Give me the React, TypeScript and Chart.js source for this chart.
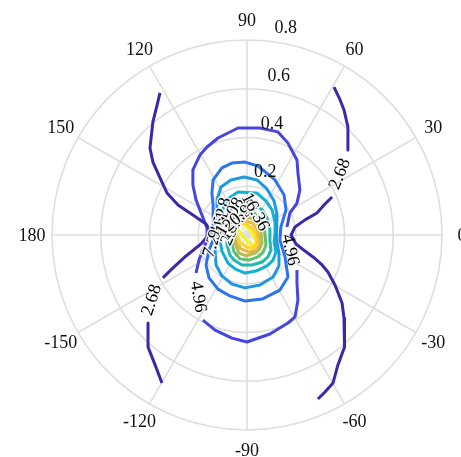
import { useEffect, useRef } from 'react';
import { Chart, registerables } from 'chart.js';

Chart.register(...registerables);

// Polar axis settings
const R_MAX = 0.8;
const radialTicks = [0.2, 0.4, 0.6, 0.8];
const angleTicks = [0, 30, 60, 90, 120, 150, 180, -150, -120, -90, -60, -30];

type P = [number, number];

// Contour polylines in Cartesian data units (x = r cos t, y = r sin t)
const c268LeftUpper: P[] = [
  [-0.357, 0.583], [-0.369, 0.533], [-0.386, 0.464], [-0.398, 0.357], [-0.386, 0.299],
  [-0.353, 0.226], [-0.328, 0.172], [-0.283, 0.123], [-0.222, 0.082], [-0.168, 0.045],
  [-0.148, 0.012], [-0.185, -0.033], [-0.25, -0.086], [-0.308, -0.139], [-0.345, -0.176],
];
const c268LeftLower: P[] = [
  [-0.406, -0.361], [-0.406, -0.46], [-0.377, -0.533], [-0.349, -0.607],
];
const c268RightUpper: P[] = [
  [0.357, 0.607], [0.382, 0.554], [0.398, 0.513], [0.414, 0.443], [0.414, 0.349],
];
const c268RightLower: P[] = [
  [0.349, 0.156], [0.32, 0.127], [0.287, 0.09], [0.238, 0.062], [0.197, 0.033],
  [0.181, 0.0], [0.201, -0.037], [0.238, -0.066], [0.271, -0.09], [0.308, -0.123],
  [0.332, -0.152], [0.361, -0.205], [0.39, -0.279], [0.398, -0.341], [0.402, -0.39],
  [0.398, -0.46], [0.373, -0.533], [0.353, -0.607], [0.32, -0.644], [0.291, -0.673],
];

const c496Upper: P[] = [
  [0.164, 0.033], [0.176, 0.09], [0.205, 0.131], [0.217, 0.185], [0.209, 0.254],
  [0.205, 0.308], [0.168, 0.377], [0.127, 0.423], [0.053, 0.439], [-0.037, 0.439],
  [-0.119, 0.398], [-0.164, 0.361], [-0.193, 0.328], [-0.222, 0.267], [-0.222, 0.205],
  [-0.209, 0.144], [-0.185, 0.082], [-0.164, 0.029], [-0.164, -0.021], [-0.181, -0.062],
  [-0.197, -0.103], [-0.209, -0.156],
];
const c496Lower: P[] = [
  [-0.181, -0.349], [-0.131, -0.39], [-0.062, -0.423], [0.0, -0.439], [0.094, -0.406],
  [0.168, -0.361], [0.197, -0.336], [0.209, -0.267], [0.205, -0.197], [0.205, -0.144],
];

const c724: P[] = [
  [-0.135, -0.012], [-0.139, 0.053], [-0.139, 0.123], [-0.144, 0.172], [-0.139, 0.226],
  [-0.103, 0.275], [-0.062, 0.295], [-0.008, 0.299], [0.045, 0.283], [0.115, 0.226],
  [0.152, 0.164], [0.16, 0.103], [0.139, 0.033], [0.135, -0.021], [0.156, -0.09],
  [0.168, -0.172], [0.135, -0.226], [0.062, -0.263], [-0.008, -0.271], [-0.07, -0.25],
  [-0.119, -0.222], [-0.156, -0.176], [-0.168, -0.123], [-0.156, -0.062], [-0.135, -0.012],
];
const c952: P[] = [
  [-0.119, -0.012], [-0.123, 0.082], [-0.123, 0.144], [-0.107, 0.197], [-0.066, 0.226],
  [-0.012, 0.238], [0.041, 0.226], [0.082, 0.189], [0.111, 0.139], [0.123, 0.086],
  [0.123, 0.029], [0.119, -0.021], [0.131, -0.074], [0.131, -0.127], [0.107, -0.172],
  [0.053, -0.205], [-0.008, -0.217], [-0.062, -0.201], [-0.103, -0.168], [-0.127, -0.123],
  [-0.131, -0.066], [-0.119, -0.012],
];
const c1180: P[] = [
  [-0.111, 0.008], [-0.107, 0.082], [-0.086, 0.144], [-0.037, 0.176], [0.041, 0.172],
  [0.078, 0.139], [0.103, 0.103], [0.115, 0.053], [0.115, 0.008], [0.111, -0.029],
  [0.119, -0.07], [0.107, -0.103], [0.082, -0.127], [0.037, -0.148], [-0.008, -0.156],
  [-0.049, -0.139], [-0.078, -0.115], [-0.103, -0.066], [-0.111, -0.021], [-0.111, 0.008],
];
const c1408: P[] = [
  [-0.082, -0.012], [-0.082, 0.053], [-0.066, 0.111], [-0.029, 0.144], [0.025, 0.131],
  [0.062, 0.103], [0.082, 0.07], [0.094, 0.021], [0.094, -0.021], [0.098, -0.062],
  [0.086, -0.09], [0.062, -0.111], [0.021, -0.123], [-0.021, -0.123], [-0.053, -0.103],
  [-0.07, -0.082], [-0.082, -0.041], [-0.082, -0.012],
];
const c1636: P[] = [
  [-0.062, 0.012], [-0.053, 0.062], [-0.021, 0.103], [0.025, 0.094], [0.053, 0.074],
  [0.07, 0.041], [0.074, -0.004], [0.078, -0.041], [0.066, -0.07], [0.045, -0.09],
  [0.008, -0.103], [-0.029, -0.098], [-0.053, -0.07], [-0.062, -0.033], [-0.062, 0.012],
];
const c1864: P[] = [
  [-0.049, 0.037], [-0.021, 0.074], [0.016, 0.07], [0.045, 0.045], [0.057, 0.012],
  [0.062, -0.029], [0.053, -0.057], [0.033, -0.074], [-0.004, -0.086], [-0.033, -0.074],
  [-0.049, -0.033], [-0.049, 0.037],
];
const c2092: P[] = [
  [-0.049, 0.053], [-0.016, 0.062], [0.021, 0.049], [0.041, 0.025], [0.049, -0.012],
  [0.053, -0.041], [0.037, -0.062], [0.008, -0.07], [-0.025, -0.057], [-0.049, -0.021],
  [-0.057, 0.012], [-0.049, 0.053],
];
const c2320: P[] = [
  [-0.041, 0.053], [-0.004, 0.045], [0.025, 0.025], [0.041, -0.004], [0.041, -0.037],
  [0.025, -0.053], [-0.004, -0.049], [-0.029, -0.029], [-0.045, 0.008], [-0.041, 0.053],
];
const c2548: P[] = [
  [-0.049, 0.066], [-0.012, 0.045], [0.016, 0.016], [0.037, -0.021], [0.033, -0.045],
  [0.008, -0.033], [-0.021, 0.0], [-0.045, 0.037], [-0.049, 0.066],
];

// Contour levels, their colours and the polylines that belong to them
const levels = [2.68, 4.96, 7.24, 9.52, 11.8, 14.08, 16.36, 18.64, 20.92, 23.2, 25.48];
const levelColors = [
  '#3c28a8', '#4545e0', '#2d72ee', '#1e98e2', '#12b0d4', '#22b8b0',
  '#62bf72', '#b1bd52', '#f2b73e', '#f9d22e', '#f4f41a',
];
const levelLines: P[][][] = [
  [c268LeftUpper, c268LeftLower, c268RightUpper, c268RightLower],
  [c496Upper, c496Lower],
  [c724],
  [c952],
  [c1180],
  [c1408],
  [c1636],
  [c1864],
  [c2092],
  [c2320],
  [c2548],
];

// Inline contour labels: text, x, y (data units), rotation in degrees
const contourLabels: [string, number, number, number][] = [
  ['2.68', -0.39, -0.267, -72],
  ['2.68', 0.382, 0.25, -68],
  ['4.96', -0.201, -0.254, 81],
  ['4.96', 0.176, -0.062, 77],
];
const clusterLabels: [string, number, number, number][] = [
  ['7.24', -0.139, -0.029, -72],
  ['23.2', -0.06, 0.02, -65],
  ['9.52', -0.115, 0.045, -70],
  ['18.64', -0.045, 0.05, -50],
  ['11.8', -0.098, 0.09, -78],
  ['14.08', -0.07, 0.075, -60],
  ['20.92', -0.025, 0.08, -40],
  ['16.36', 0.033, 0.094, 62],
];

const FONT = '18px "Liberation Serif", "Times New Roman", serif';

const polarFrame = {
  id: 'polarFrame',
  beforeDatasetsDraw(chart: any) {
    const { ctx, scales } = chart;
    const xs = scales.x;
    const ys = scales.y;
    const cx = xs.getPixelForValue(0);
    const cy = ys.getPixelForValue(0);
    const R = xs.getPixelForValue(R_MAX) - cx;
    ctx.save();
    ctx.strokeStyle = '#dedede';
    ctx.lineWidth = 1.6;
    for (const r of radialTicks) {
      const rp = xs.getPixelForValue(r) - cx;
      ctx.beginPath();
      ctx.arc(cx, cy, rp, 0, Math.PI * 2);
      ctx.stroke();
    }
    for (const a of angleTicks) {
      const t = (a * Math.PI) / 180;
      ctx.beginPath();
      ctx.moveTo(cx, cy);
      ctx.lineTo(cx + R * Math.cos(t), cy - R * Math.sin(t));
      ctx.stroke();
    }
    ctx.restore();
  },
  afterDatasetsDraw(chart: any) {
    const { ctx, scales } = chart;
    const xs = scales.x;
    const ys = scales.y;
    const cx = xs.getPixelForValue(0);
    const cy = ys.getPixelForValue(0);
    const R = xs.getPixelForValue(R_MAX) - cx;
    ctx.save();
    ctx.font = FONT;
    ctx.fillStyle = '#111';
    ctx.textAlign = 'center';
    ctx.textBaseline = 'middle';
    // angle labels
    for (const a of angleTicks) {
      const t = (a * Math.PI) / 180;
      ctx.fillText(String(a), cx + (R + 20) * Math.cos(t), cy - (R + 20) * Math.sin(t) + 1);
    }
    // radius labels along the 82 degree direction
    const ta = (82 * Math.PI) / 180;
    for (const r of radialTicks) {
      const rp = xs.getPixelForValue(r) - cx;
      ctx.fillText(r.toFixed(1), cx + rp * Math.cos(ta) + 11.5, cy - rp * Math.sin(ta) - 14);
    }
    // contour labels
    const drawLabel = (l: [string, number, number, number], halo: boolean) => {
      ctx.save();
      ctx.translate(xs.getPixelForValue(l[1]), ys.getPixelForValue(l[2]));
      ctx.rotate((l[3] * Math.PI) / 180);
      if (halo) {
        ctx.strokeStyle = 'rgba(255,255,255,0.85)';
        ctx.lineWidth = 3;
        ctx.strokeText(l[0], 0, 0);
      }
      ctx.fillStyle = '#000';
      ctx.fillText(l[0], 0, 0);
      ctx.restore();
    };
    contourLabels.forEach((l) => drawLabel(l, false));
    clusterLabels.forEach((l) => drawLabel(l, true));
    ctx.restore();
  },
};

export default function App() {
  const canvasRef = useRef<HTMLCanvasElement | null>(null);

  useEffect(() => {
    const canvas = canvasRef.current;
    if (!canvas) return;
    const datasets: any[] = [];
    levels.forEach((lv, i) => {
      levelLines[i].forEach((line) => {
        datasets.push({
          label: String(lv),
          data: line.map(([x, y]) => ({ x, y })),
          showLine: true,
          borderColor: levelColors[i],
          backgroundColor: levelColors[i],
          borderWidth: 3,
          borderJoinStyle: 'round',
          borderCapStyle: 'butt',
          pointRadius: 0,
          fill: false,
          tension: 0,
        });
      });
    });
    const chart = new Chart(canvas, {
      type: 'scatter',
      data: { datasets },
      options: {
        responsive: false,
        animation: false,
        layout: { padding: { left: 52, top: 40, right: 19, bottom: 27 } },
        plugins: { legend: { display: false }, tooltip: { enabled: false } },
        scales: {
          x: { type: 'linear', min: -R_MAX, max: R_MAX, display: false },
          y: { type: 'linear', min: -R_MAX, max: R_MAX, display: false },
        },
      },
      plugins: [polarFrame],
    });
    return () => chart.destroy();
  }, []);

  return (
    <div style={{ position: 'absolute', left: 0, top: 0, width: 461, height: 457, background: '#fff' }}>
      <canvas ref={canvasRef} width={461} height={457} />
    </div>
  );
}
